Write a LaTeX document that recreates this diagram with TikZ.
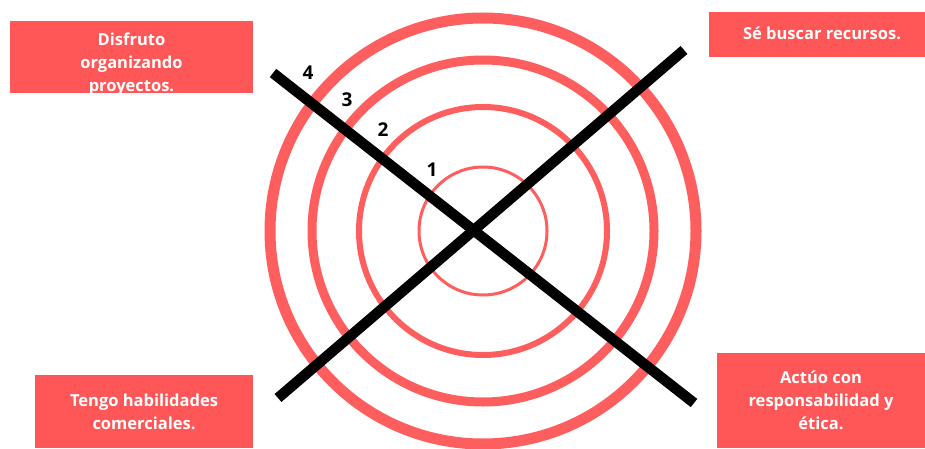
\documentclass[tikz,border=0pt]{standalone}
\usepackage{fontspec}
\setmainfont{Open Sans}
\definecolor{boxred}{HTML}{FF5757}
\definecolor{ringred}{HTML}{FF5E5E}
\begin{document}
\begin{tikzpicture}[x=1pt,y=1pt,
  card/.style={fill=boxred, draw=none, text=white, align=center,
    font=\fontsize{16.5}{23}\selectfont\bfseries, inner sep=0pt},
  ring/.style={draw=ringred},
  bar/.style={draw=black, line width=10.5pt, line cap=butt},
  num/.style={font=\fontsize{19}{19}\selectfont\bfseries, text=black, inner sep=0pt}]
\useasboundingbox (0,0) rectangle (925,448);
\fill[white] (0,0) rectangle (925,448);
% rings
\coordinate (c) at (483,217);
\draw[ring, line width=11pt] (c) circle[radius=213];
\draw[ring, line width=9pt] (c) circle[radius=171];
\draw[ring, line width=6pt] (c) circle[radius=124];
\draw[ring, line width=3pt] (c) circle[radius=64];
% cross
\coordinate (a1) at (273,375);
\coordinate (a2) at (694,45);
\coordinate (b1) at (278,50);
\coordinate (b2) at (684,398);
\draw[bar] (a1) -- (a2);
\draw[bar] (b1) -- (b2);
% numbers
\node[num] (n4) at (308,375) {4};
\node[num] (n3) at (347,348) {3};
\node[num] (n2) at (383,318) {2};
\node[num] (n1) at (432,278) {1};
% cards
\node[card, minimum width=243pt, minimum height=72pt] (tl) at (131.5,391) {};
\node[card, fill=none] (tltext) at (131.5,384) {Disfruto\\organizando\\proyectos.};
\node[card, minimum width=216pt, minimum height=45pt] (tr) at (817,413.5) {};
\node[card, fill=none] (trtext) at (822,414.5) {Sé buscar recursos.};
\node[card, minimum width=218pt, minimum height=73pt] (bl) at (144,36.5) {Tengo habilidades\\comerciales.};
\node[card, minimum width=208pt, minimum height=95pt] (br) at (821,47.5) {Actúo con\\responsabilidad y\\ética.};
\end{tikzpicture}
\end{document}
